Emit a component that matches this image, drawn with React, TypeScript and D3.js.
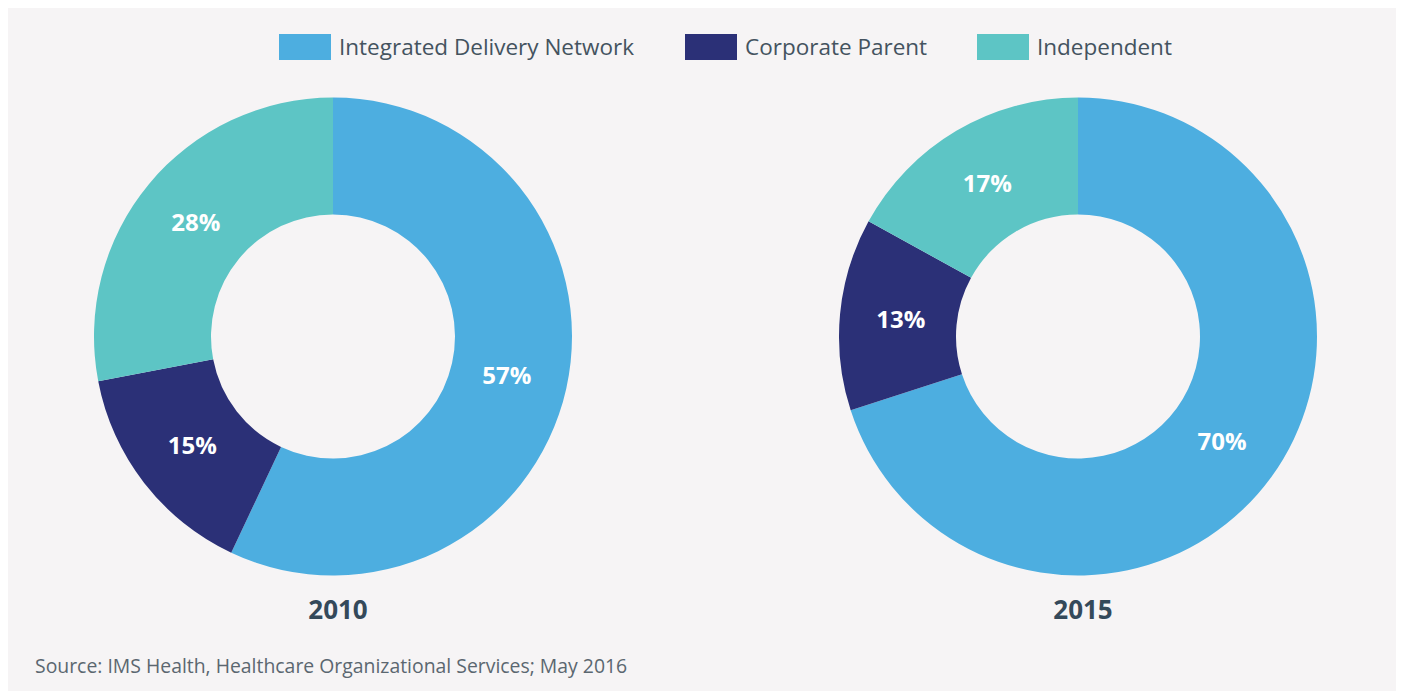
import * as d3 from "d3";

const categories = ["Integrated Delivery Network", "Corporate Parent", "Independent"];
const colors = ["#4daee0", "#2b3077", "#5dc5c5"];
const years = ["2010", "2015"];
const shares2010 = [57, 15, 28];
const shares2015 = [70, 13, 17];
const source = "Source: IMS Health, Healthcare Organizational Services; May 2016";

const W = 1392;
const H = 683;
const FONT = "'Open Sans', Lato, sans-serif";

type Slice = { name: string; value: number; color: string };

function Donut({ cx, cy, values, year }: { cx: number; cy: number; values: number[]; year: string }) {
  const outer = 239;
  const inner = 122;
  const data: Slice[] = values.map((v, i) => ({ name: categories[i], value: v, color: colors[i] }));
  const pie = d3.pie<Slice>().sort(null).value((d) => d.value);
  const arcs = pie(data);
  const arc = d3.arc<d3.PieArcDatum<Slice>>().innerRadius(inner).outerRadius(outer);
  const labelArc = d3.arc<d3.PieArcDatum<Slice>>().innerRadius(178).outerRadius(178);

  return (
    <g transform={`translate(${cx},${cy})`}>
      {arcs.map((a, i) => (
        <path key={i} d={arc(a) || ""} fill={a.data.color} />
      ))}
      {arcs.map((a, i) => {
        const [x, y] = labelArc.centroid(a);
        return (
          <text
            key={"l" + i}
            x={x}
            y={y}
            dy="0.35em"
            textAnchor="middle"
            fill="#fff"
            fontSize={24}
            fontWeight={700}
            fontFamily={FONT}
          >
            {a.data.value}%
          </text>
        );
      })}
      <text
        x={5}
        y={outer + 34}
        dy="0.35em"
        textAnchor="middle"
        fill="#34495a"
        fontSize={26}
        fontWeight={700}
        fontFamily={FONT}
      >
        {year}
      </text>
    </g>
  );
}

export default function App() {
  const x = d3.scalePoint<string>().domain(years).range([325, 1070]);
  const legendX = [271, 677, 969];

  return (
    <svg width={W} height={H} style={{ display: "block" }}>
      <rect x={0} y={0} width={W} height={H} fill="#f6f4f5" />
      <g>
        {categories.map((c, i) => (
          <g key={c} transform={`translate(${legendX[i]},26)`}>
            <rect x={0} y={0} width={52} height={26} fill={colors[i]} />
            <text x={60} y={13} dy="0.35em" fill="#44535f" fontSize={22.5} fontFamily={FONT}>
              {c}
            </text>
          </g>
        ))}
      </g>
      <Donut cx={x("2010")!} cy={328.5} values={shares2010} year="2010" />
      <Donut cx={x("2015")!} cy={328.5} values={shares2015} year="2015" />
      <text x={27} y={658} dy="0.35em" fill="#5b6770" fontSize={19.4} fontFamily={FONT}>
        {source}
      </text>
    </svg>
  );
}
